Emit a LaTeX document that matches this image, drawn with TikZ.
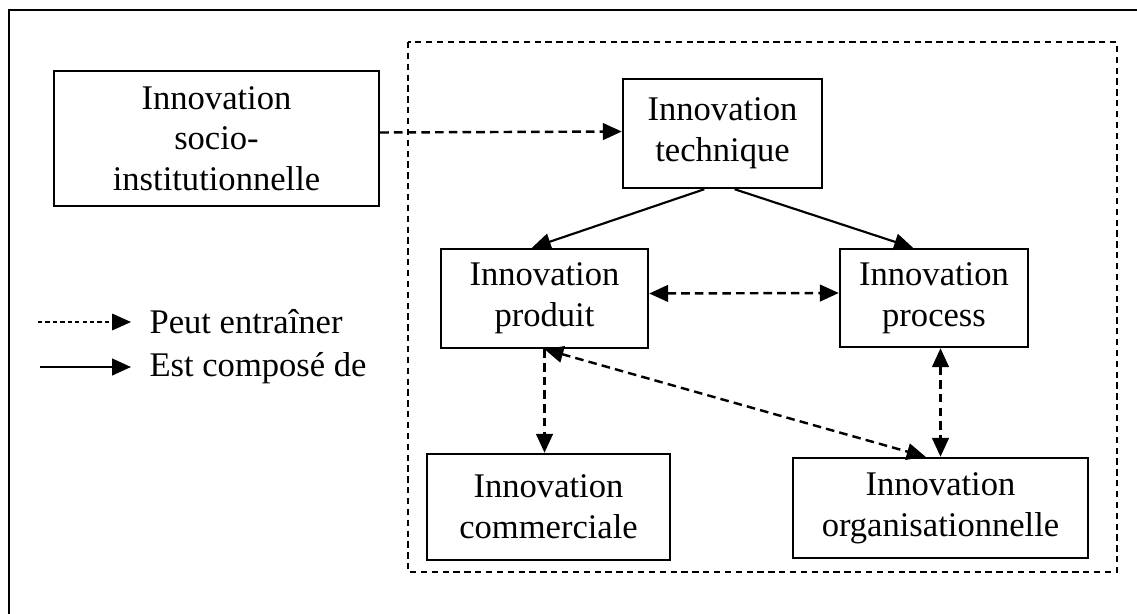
\documentclass[tikz,border=0pt]{standalone}
\usepackage{fontspec}
\setmainfont{Liberation Serif}
\usetikzlibrary{arrows.meta,calc}
\begin{document}
\begin{tikzpicture}[x=0.35pt,y=-0.35pt,
  box/.style={draw,line width=0.85pt,inner sep=0pt,align=center,font=\fontsize{12.1}{14.2}\selectfont},
  tip/.style={-{Triangle[length=6.6pt,width=5.8pt]}},
  dtip/.style={{Triangle[length=6.6pt,width=5.8pt]}-{Triangle[length=6.6pt,width=5.8pt]}},
  comp/.style={line width=0.75pt,tip},
  peut/.style={line width=0.85pt,dash pattern=on 3pt off 1.8pt},
  lbl/.style={anchor=west,inner sep=0pt,font=\fontsize{12.1}{14.2}\selectfont}]
\useasboundingbox (0,0) rectangle (1137,614);
\clip (0,0) rectangle (1137,614);
\draw[line width=0.8pt] (9,10) rectangle (1170,650);
\draw[line width=0.8pt,dash pattern=on 2.2pt off 1.6pt] (408,42) rectangle (1117,572);
\node[box,minimum width=113.75pt,minimum height=47.25pt] (socio) at (216.5,138.5) {Innovation\\socio-\\institutionnelle};
\node[box,minimum width=69.65pt,minimum height=38.15pt] (tech) at (722.5,133.5) {Innovation\\technique};
\node[box,minimum width=72.45pt,minimum height=34.65pt] (prod) at (544.5,298.5) {Innovation\\produit};
\node[box,minimum width=65.8pt,minimum height=34.3pt] (proc) at (934,298) {Innovation\\process};
\node[box,minimum width=85.05pt,minimum height=37.1pt] (comm) at (548.5,507) {Innovation\\commerciale};
\node[box,minimum width=103.25pt,minimum height=35pt] (org) at (940.5,508) {Innovation\\organisationnelle};
% connectors
\draw[peut,tip] ($(socio.east)+(0,-6)$) -- ($(tech.west)+(0,-2)$);
\draw[comp] ($(tech.south west)!0.41!(tech.south east)$) -- ($(prod.north west)!0.44!(prod.north east)$);
\draw[comp] ($(tech.south west)!0.56!(tech.south east)$) -- ($(proc.north west)!0.39!(proc.north east)$);
\draw[peut,dtip] ($(prod.east)+(0,-5)$) -- ($(proc.west)+(0,-5)$);
\draw[peut,tip] (prod.south) -- (comm.north -| prod.south);
\draw[peut,dtip] (prod.south) -- ($(org.north west)!0.45!(org.north east)$);
\draw[peut,dtip] (org.north |- proc.south) -- (org.north);
% legend
\coordinate (l1a) at (38,322);
\coordinate (l1b) at (131,322);
\coordinate (l2a) at (40,367);
\coordinate (l2b) at (131,367);
\draw[line width=0.5pt,dash pattern=on 1.5pt off 1.1pt,tip] (l1a) -- (l1b);
\draw[line width=0.8pt,tip] (l2a) -- (l2b);
\node[lbl] (t1) at (149,322) {Peut entraîner};
\node[lbl] (t2) at (149,368) {Est composé de};
\end{tikzpicture}
\end{document}
